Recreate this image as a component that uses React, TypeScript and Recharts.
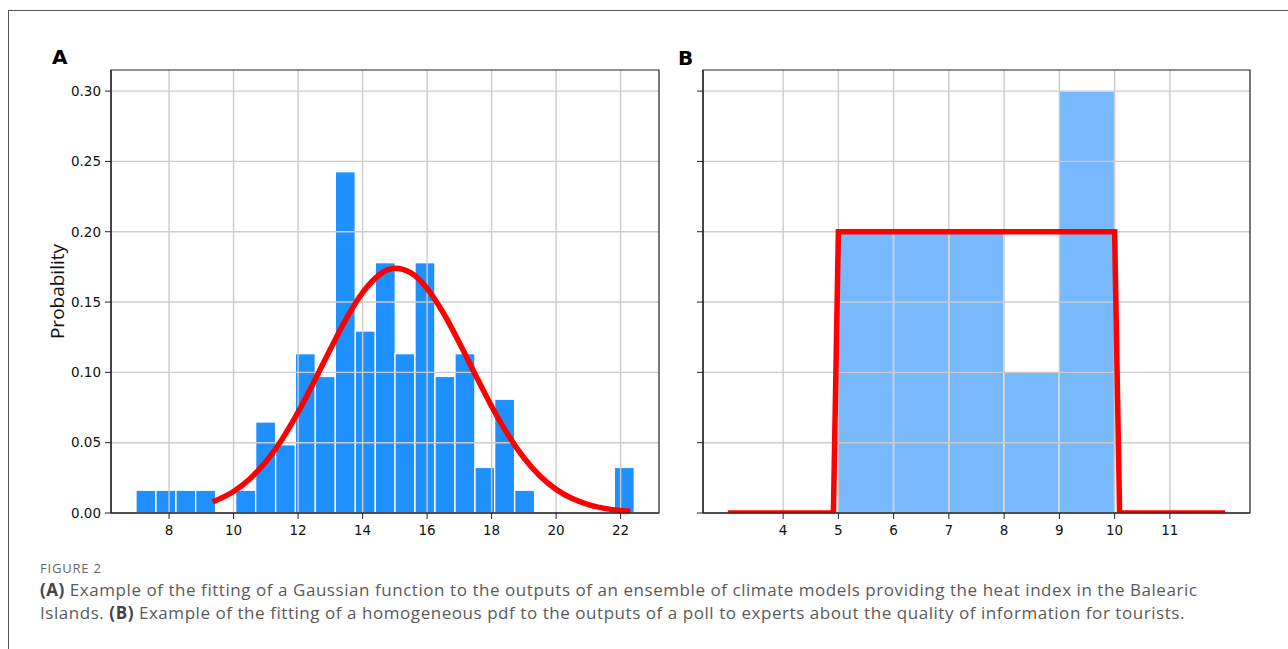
import { ComposedChart, Bar, Line, XAxis, YAxis, CartesianGrid, ReferenceArea } from 'recharts';

// panel A: histogram of ensemble heat index (density) + gaussian fit
const binCentersA = [7.28, 7.9, 8.52, 9.13, 9.75, 10.37, 10.99, 11.61, 12.22, 12.84, 13.46, 14.08, 14.7, 15.31, 15.93, 16.55, 17.17, 17.79, 18.4, 19.02, 19.64, 20.26, 20.88, 21.49, 22.11];
const densityA = [0.0162, 0.0162, 0.0162, 0.0162, 0, 0.0162, 0.0647, 0.0485, 0.1133, 0.0971, 0.2427, 0.1294, 0.178, 0.1133, 0.178, 0.0971, 0.1133, 0.0324, 0.0809, 0.0162, 0, 0, 0, 0, 0.0324];
const fitX = [9.35, 10, 10.5, 11, 11.5, 12, 12.5, 13, 13.5, 14, 14.5, 15, 15.5, 16, 16.5, 17, 17.5, 18, 18.5, 19, 19.5, 20, 20.5, 21, 21.5, 22, 22.3];
const fitY = [0.0079, 0.0153, 0.0242, 0.0364, 0.0523, 0.0717, 0.0936, 0.1165, 0.1384, 0.1567, 0.1691, 0.174, 0.1707, 0.1597, 0.1424, 0.1211, 0.0982, 0.0759, 0.0559, 0.0393, 0.0263, 0.0168, 0.0103, 0.006, 0.0033, 0.0017, 0.0012];
const xTicksA = [8, 10, 12, 14, 16, 18, 20, 22];

// panel B: poll answers + homogeneous pdf
const binCentersB = [5.5, 6.5, 7.5, 8.5, 9.5];
const probB = [0.2, 0.2, 0.2, 0.1, 0.3];
const pdfX = [3, 4.91, 5, 10, 10.09, 12];
const pdfY = [0, 0, 0.2, 0.2, 0, 0];
const xTicksB = [4, 5, 6, 7, 8, 9, 10, 11];

const yTicks = [0, 0.05, 0.1, 0.15, 0.2, 0.25, 0.3];

const histA = binCentersA.map((x, i) => ({ x, p: densityA[i] }));
const curveA = fitX.map((x, i) => ({ x, p: fitY[i] }));
const histB = binCentersB.map((x, i) => ({ x, p: probB[i] }));
const curveB = pdfX.map((x, i) => ({ x, p: pdfY[i] }));

const spine = { stroke: '#222', strokeWidth: 1.2 };
const gridStroke = '#cccccc';
const domainA: [number, number] = [6.2, 23.19];
const domainB: [number, number] = [2.55, 12.45];
const yDomain: [number, number] = [0, 0.315];

const panelLabel = { position: 'absolute' as const, fontFamily: 'DejaVu Sans', fontWeight: 700, fontSize: 20, lineHeight: '20px' };
const layer = { position: 'absolute' as const, top: 0 };

const XTick = ({ x, y, payload }: any) => (
  <text x={x} y={y} dy={11.5} textAnchor="middle" fontFamily="DejaVu Sans" fontSize={13.5} fill="#111">{payload.value}</text>
);
const YTick = ({ x, y, payload }: any) => (
  <text x={x} y={y} dy={4.8} textAnchor="end" fontFamily="DejaVu Sans" fontSize={13.5} fill="#111">{payload.value.toFixed(2)}</text>
);

// histogram bar drawn at the library's x position, with a fixed bin width in px
const histShape = (w: number, fill: string) => (props: any) => {
  const { x, y, width, height } = props;
  if (!height || height <= 0) return <g />;
  const cx = x + width / 2;
  return <rect x={cx - w / 2} y={y} width={w} height={height} fill={fill} stroke="#fff" strokeWidth={1.3} />;
};

type PanelProps = {
  left: number;
  width: number;
  margin: { top: number; right: number; bottom: number; left: number };
  yWidth: number;
  hist: { x: number; p: number }[];
  curve: { x: number; p: number }[];
  domain: [number, number];
  xTicks: number[];
  barPx: number;
  barFill: string;
  curveType: 'monotone' | 'linear';
  yLabels: boolean;
};

const Panel = ({ left, width, margin, yWidth, hist, curve, domain, xTicks, barPx, barFill, curveType, yLabels }: PanelProps) => (
  <>
    {/* bars underneath */}
    <div style={{ ...layer, left }}>
      <ComposedChart width={width} height={560} data={hist} margin={margin}>
        <XAxis dataKey="x" type="number" domain={domain} ticks={xTicks} allowDataOverflow tick={false} tickLine={false} axisLine={false} height={30} />
        <YAxis type="number" domain={yDomain} ticks={yTicks} allowDataOverflow tick={false} tickLine={false} axisLine={false} width={yWidth} />
        <Bar dataKey="p" fill={barFill} shape={histShape(barPx, barFill)} isAnimationActive={false} />
      </ComposedChart>
    </div>
    {/* grid, spines, ticks and fitted curve on top */}
    <div style={{ ...layer, left }}>
      <ComposedChart width={width} height={560} data={curve} margin={margin}>
        <CartesianGrid stroke={gridStroke} strokeWidth={1.4} horizontalValues={yTicks} verticalValues={xTicks} />
        <XAxis dataKey="x" type="number" domain={domain} ticks={xTicks} allowDataOverflow tick={<XTick />} tickLine={{ stroke: '#222' }} tickSize={6} tickMargin={4} axisLine={spine} height={30} />
        {yLabels ? (
          <YAxis type="number" domain={yDomain} ticks={yTicks} allowDataOverflow tick={<YTick />} tickLine={{ stroke: '#222' }} tickSize={6} tickMargin={4} axisLine={spine} width={yWidth}
            label={{ value: 'Probability', angle: -90, position: 'insideLeft', offset: 6, style: { textAnchor: 'middle', fontFamily: 'Open Sans', fontSize: 19, fill: '#111' } }} />
        ) : (
          <YAxis type="number" domain={yDomain} ticks={yTicks} allowDataOverflow tickFormatter={() => ''} tickLine={{ stroke: '#222' }} tickSize={6} axisLine={spine} width={yWidth} />
        )}
        {/* axes box (top and right spines) */}
        <ReferenceArea x1={domain[0]} x2={domain[1]} y1={yDomain[0]} y2={yDomain[1]} fill="none" fillOpacity={0} stroke="#222" strokeWidth={1.2} strokeOpacity={1} ifOverflow="visible" />
        <Line dataKey="p" type={curveType} stroke="#ff0000" strokeWidth={5.5} dot={false} activeDot={false} isAnimationActive={false} />
      </ComposedChart>
    </div>
  </>
);

export default function App() {
  return (
    <div style={{ position: 'absolute', left: 0, top: 0, width: 1288, height: 649, background: '#fff', overflow: 'hidden' }}>
      <div style={{ position: 'absolute', left: 8, top: 10, right: 0, bottom: 0, borderTop: '1.5px solid #555', borderLeft: '1.5px solid #555' }} />

      <div style={{ ...panelLabel, left: 52, top: 47 }}>A</div>
      <div style={{ ...panelLabel, left: 678, top: 48 }}>B</div>

      <Panel left={0} width={680} margin={{ top: 70, right: 21, bottom: 17, left: 51 }} yWidth={60}
        hist={histA} curve={curveA} domain={domainA} xTicks={xTicksA} barPx={19.93} barFill="#1e90ff" curveType="monotone" yLabels />
      <Panel left={680} width={600} margin={{ top: 70, right: 30, bottom: 17, left: 3 }} yWidth={20}
        hist={histB} curve={curveB} domain={domainB} xTicks={xTicksB} barPx={55.25} barFill="#78b9fe" curveType="linear" yLabels={false} />

      <div style={{ position: 'absolute', left: 40, top: 560, fontFamily: 'Open Sans', fontSize: 13, lineHeight: '16px', letterSpacing: 0.8, color: '#666' }}>FIGURE 2</div>
      <div style={{ position: 'absolute', left: 40, top: 578, fontFamily: 'Open Sans', fontSize: 17, lineHeight: '23px', letterSpacing: 0.55, color: '#5a5a5a', whiteSpace: 'nowrap' }}>
        <b style={{ color: '#444' }}>(A)</b> Example of the fitting of a Gaussian function to the outputs of an ensemble of climate models providing the heat index in the Balearic
        <br />
        Islands. <b style={{ color: '#444' }}>(B)</b> Example of the fitting of a homogeneous pdf to the outputs of a poll to experts about the quality of information for tourists.
      </div>
    </div>
  );
}
